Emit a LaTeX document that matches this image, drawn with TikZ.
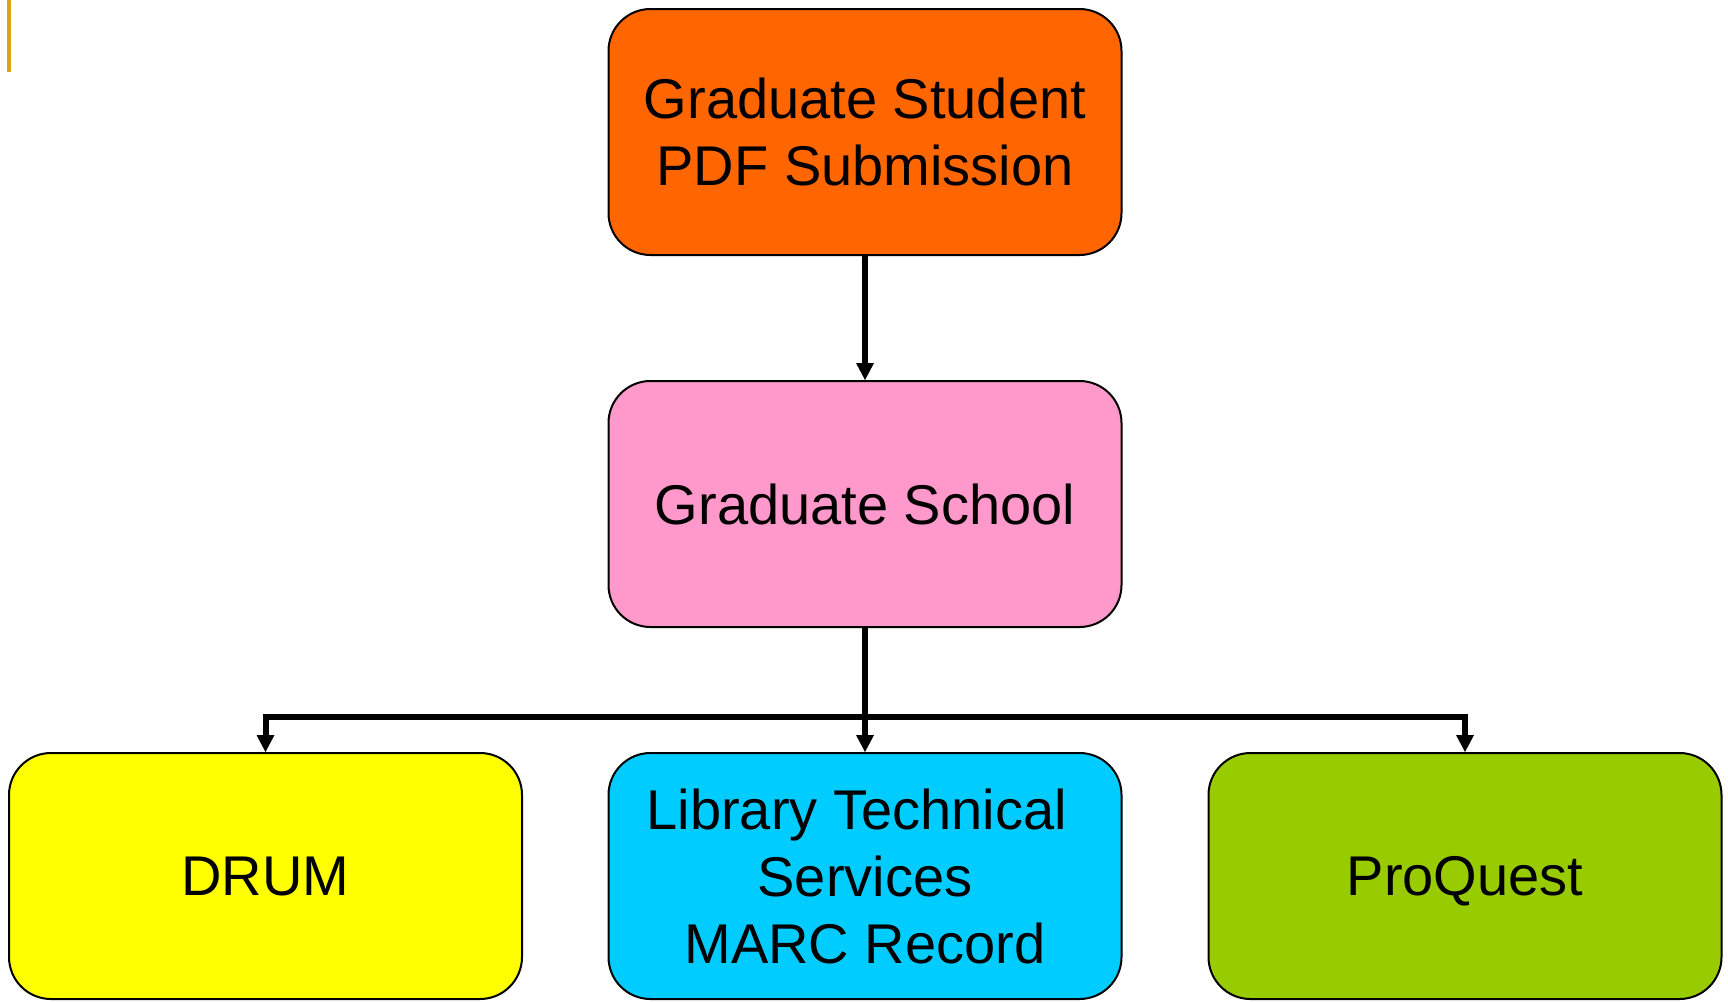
\documentclass[tikz,border=0pt]{standalone}
\usepackage{fontspec}
\setmainfont{Liberation Sans}
\usetikzlibrary{arrows.meta}
\definecolor{cOrange}{HTML}{FF6600}
\definecolor{cPink}{HTML}{FF99CC}
\definecolor{cYellow}{HTML}{FFFF00}
\definecolor{cCyan}{HTML}{00CCFF}
\definecolor{cGreen}{HTML}{99CC00}
\definecolor{cGold}{RGB}{218,165,20}
\tikzset{
  box/.style={draw=black, line width=1pt, rounded corners=21pt,
    minimum width=256.5pt, minimum height=123pt, align=center,
    font=\fontsize{28}{33.5}\selectfont, inner sep=0pt},
  conn/.style={draw=black, line width=3pt,
    -{Triangle[width=9pt,length=8.5pt,line width=0pt]}},
  plainline/.style={draw=black, line width=3pt}
}
\begin{document}
\begin{tikzpicture}[x=0.5pt,y=-0.5pt]
\useasboundingbox (0,0) rectangle (1728,1001);
\draw[cGold, line width=1.8pt] (9.2,0) -- (9.2,72);
\node[box, fill=cOrange] (top) at (865,132) {Graduate Student\\PDF Submission};
\node[box, fill=cPink] (mid) at (865,504) {Graduate School};
\node[box, fill=cYellow] (drum) at (265.5,876) {DRUM};
\node[box, fill=cCyan] (lib) at (865,876) {Library Technical\hspace*{0.3em}\\Services\\MARC Record};
\node[box, fill=cGreen, text depth=0pt] (pq) at (1465,876) {ProQuest};
\coordinate (j) at (865,717);
\draw[conn] (top.south) -- (mid.north);
\draw[plainline] (mid.south) -- (j);
\draw[conn] (j) -- (lib.north);
\draw[conn] (j) -| (drum.north);
\draw[conn] (j) -| (pq.north);
\end{tikzpicture}
\end{document}
